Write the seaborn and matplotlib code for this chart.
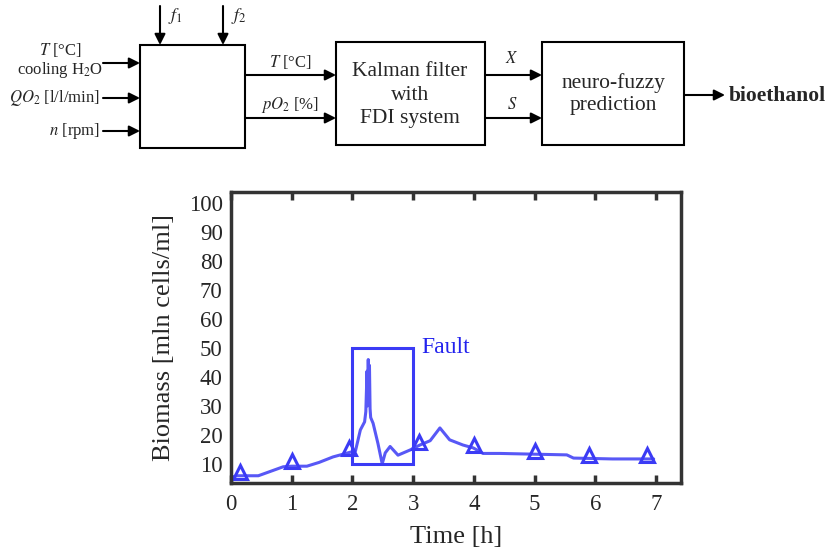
import matplotlib
matplotlib.use("Agg")
import matplotlib.pyplot as plt
from matplotlib.patches import Rectangle
import numpy as np
import pandas as pd
import seaborn as sns

# biomass estimate
time_h = [0.03, 0.10, 0.45, 0.86, 1.00, 1.25, 1.45, 1.68, 1.96, 2.05, 2.13, 2.20,
          2.22, 2.24, 2.25, 2.26, 2.27, 2.28, 2.29, 2.30, 2.34, 2.42, 2.49, 2.54,
          2.62, 2.75, 2.95, 3.11, 3.28, 3.44, 3.60, 3.82, 3.99, 4.15, 4.43, 5.53,
          5.64, 6.28, 6.96]
biomass = [5.5, 5.9, 5.9, 9.0, 9.2, 9.2, 10.5, 12.4, 14.0, 14.5, 21.7, 24.5,
           28.0, 42.0, 30.0, 46.0, 32.0, 44.0, 29.0, 26.0, 24.0, 17.0, 10.0, 13.8,
           16.0, 13.0, 14.8, 16.5, 18.0, 22.4, 18.3, 16.5, 15.5, 13.6, 13.6, 13.1,
           12.0, 11.7, 11.7]

marker_time = [0.15, 1.00, 1.95, 3.10, 4.00, 5.00, 5.90, 6.85]
marker_biomass = [7.2, 11.0, 15.6, 17.6, 16.6, 14.3, 13.2, 13.1]

fault_start, fault_end = 2.0, 3.0
fault_low, fault_high = 10, 50

x_ticks = [0, 1, 2, 3, 4, 5, 6, 7]
y_ticks = [10, 20, 30, 40, 50, 60, 70, 80, 90, 100]

sns.set_theme(style="ticks")
plt.rcParams["font.family"] = ["Liberation Serif", "DejaVu Serif"]
plt.rcParams["mathtext.fontset"] = "stix"

blue = "#3b3bf5"
dark = "#333333"

fig = plt.figure(figsize=(8.3, 5.48), dpi=100)

# ---------------------------------------------------------------------------
# block diagram (pixel coordinates)
# ---------------------------------------------------------------------------
dg = fig.add_axes([0, 0, 1, 1])
dg.set_xlim(0, 830)
dg.set_ylim(548, 0)
dg.axis("off")

box_kw = dict(fill=False, edgecolor="black", linewidth=1.5)
dg.add_patch(Rectangle((140, 45), 105, 103, **box_kw))
dg.add_patch(Rectangle((336, 42), 149, 103, **box_kw))
dg.add_patch(Rectangle((542, 42), 142, 103, **box_kw))


def arrow(x0, y0, x1, y1):
    dg.annotate("", xy=(x1, y1), xytext=(x0, y0),
                arrowprops=dict(arrowstyle="-|>", color="black", lw=1.5,
                                mutation_scale=16, shrinkA=0, shrinkB=0))


small = 12
arrow(160, 6, 160, 45)
arrow(223, 6, 223, 45)
dg.text(168, 16, "$f_1$", fontsize=small + 1, va="center")
dg.text(231, 16, "$f_2$", fontsize=small + 1, va="center")

arrow(103, 63, 140, 63)
arrow(103, 98, 140, 98)
arrow(103, 131, 140, 131)
dg.text(60, 50, "$T$ [°C]", fontsize=small, ha="center", va="center")
dg.text(60, 70, "cooling H$_2$O", fontsize=small, ha="center", va="center")
dg.text(100, 98, "$QO_2$ [l/l/min]", fontsize=small, ha="right", va="center")
dg.text(100, 131, "$n$ [rpm]", fontsize=small, ha="right", va="center")

arrow(245, 75, 336, 75)
arrow(245, 118, 336, 118)
dg.text(290, 62, "$T$ [°C]", fontsize=small, ha="center", va="center")
dg.text(290, 105, "$pO_2$ [%]", fontsize=small, ha="center", va="center")

dg.text(410, 95, "Kalman filter\nwith\nFDI system", fontsize=15.5, ha="center",
        va="center", linespacing=1.3)

arrow(485, 75, 542, 75)
arrow(485, 118, 542, 118)
dg.text(512, 59, "$X$", fontsize=small, ha="center", va="center")
dg.text(512, 105, "$S$", fontsize=small, ha="center", va="center")

dg.text(613, 94, "neuro-fuzzy\nprediction", fontsize=15.5, ha="center",
        va="center", linespacing=1.25)

arrow(684, 95, 725, 95)
dg.text(729, 96, "bioethanol", fontsize=15.5, fontweight="bold", va="center")

# ---------------------------------------------------------------------------
# biomass chart
# ---------------------------------------------------------------------------
ax = fig.add_axes([231 / 830, (548 - 483) / 548, 450 / 830, (483 - 192) / 548])
ax.set_zorder(2)

curve = pd.DataFrame({"time": time_h, "biomass": biomass})
sns.lineplot(data=curve, x="time", y="biomass", sort=False, color=blue,
             linewidth=2.2, alpha=0.85, ax=ax)

marks = pd.DataFrame({"time": marker_time, "biomass": marker_biomass})
sns.lineplot(data=marks, x="time", y="biomass", sort=False, linestyle="",
             marker="^", markersize=10, markerfacecolor="none",
             markeredgecolor=blue, markeredgewidth=2.2, ax=ax)

ax.add_patch(Rectangle((fault_start, fault_low), fault_end - fault_start,
                       fault_high - fault_low, fill=False, edgecolor=blue,
                       linewidth=2.2))
ax.text(3.13, fault_high, "Fault", color="#2222ee", fontsize=17, va="center")

ax.set_xlim(0, 7.41)
ax.set_ylim(3.4, 103.8)
ax.set_xticks(x_ticks)
ax.set_yticks(y_ticks)
ax.tick_params(axis="x", direction="in", length=6, width=2.5, color=dark,
               labelsize=16.5, top=True, pad=8)
ax.tick_params(axis="y", length=0, labelsize=16.5, pad=6)
for side in ["left", "right", "top", "bottom"]:
    ax.spines[side].set_visible(True)
    ax.spines[side].set_linewidth(2.5)
    ax.spines[side].set_color(dark)

ax.set_xlabel("Time [h]", fontsize=19, labelpad=8)
ax.set_ylabel("Biomass [mln cells/ml]", fontsize=19, labelpad=10)

fig.savefig("out.png", dpi=100)
